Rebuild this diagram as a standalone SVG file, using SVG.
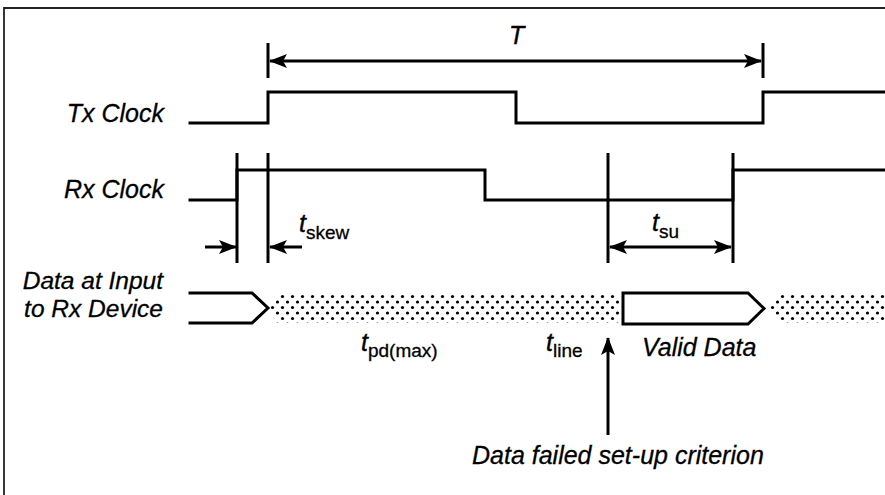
<svg xmlns="http://www.w3.org/2000/svg" width="885" height="495" viewBox="0 0 885 495">
<style>
.wave{fill:none;stroke:#000;stroke-width:3;stroke-linejoin:miter;stroke-linecap:square}
.ref{fill:none;stroke:#000;stroke-width:3}
.dim{fill:none;stroke:#000;stroke-width:3}
.lbl{font-family:"Liberation Sans",Arial,sans-serif;font-style:italic;font-size:25px;fill:#000;stroke:#000;stroke-width:0.3}
.t{font-family:"Liberation Sans",Arial,sans-serif;font-style:italic;font-size:25px;fill:#000;stroke:#000;stroke-width:0.4}
.sub{font-family:"Liberation Sans",Arial,sans-serif;font-style:normal;font-size:19px;fill:#000;stroke:#000;stroke-width:0.3}
</style>
<defs>
<marker id="ah" viewBox="0 0 18 14" refX="17" refY="7" markerWidth="18" markerHeight="14" markerUnits="userSpaceOnUse" orient="auto-start-reverse">
<path d="M0,0 L18,7 L0,14 L4,7 z" fill="#000"/>
</marker>
<pattern id="dots" patternUnits="userSpaceOnUse" width="10" height="11" x="0" y="294">
<circle cx="2.5" cy="2.5" r="1.6" fill="#000"/>
<circle cx="7.5" cy="8" r="1.6" fill="#000"/>
</pattern>
</defs>
<rect width="885" height="495" fill="#fff"/>
<path d="M4,500 V8 H890" fill="none" stroke="#222" stroke-width="1.8"/>

<g id="tx-clock">
<text class="lbl" x="164" y="122" text-anchor="end">Tx Clock</text>
<path class="wave" d="M190,123 H268 V92 H516 V123 H763 V92 H890"/>
</g>

<g id="rx-clock">
<text class="lbl" x="164" y="198" text-anchor="end">Rx Clock</text>
<path class="wave" d="M190,200 H237 V170 H485 V200 H733 V170 H890"/>
</g>

<g id="ref-lines">
<line class="ref" x1="237" y1="153" x2="237" y2="263"/>
<line class="ref" x1="268" y1="153" x2="268" y2="263"/>
<line class="ref" x1="608" y1="153" x2="608" y2="263"/>
<line class="ref" x1="733" y1="153" x2="733" y2="263"/>
</g>

<g id="data">
<text class="lbl" x="163" y="289" text-anchor="end" style="font-size:24.5px">Data at Input</text>
<text class="lbl" x="163" y="317" text-anchor="end" style="font-size:24.5px">to Rx Device</text>
<path class="wave" d="M190,293 H252 L268,308 L252,323 H190"/>
<polygon points="276,293 620,293 620,323 276,323 270,308" fill="url(#dots)"/>
<polygon points="623,293 748,293 764,308.5 748,324 623,324" fill="none" stroke="#000" stroke-width="3" stroke-linejoin="miter"/>
<polygon points="780,293 890,293 890,323 780,323 768,308" fill="url(#dots)"/>
</g>

<g id="connectors">
<line class="dim" x1="268" y1="43" x2="268" y2="78"/>
<line class="dim" x1="763" y1="43" x2="763" y2="78"/>
<line class="dim" x1="270" y1="61" x2="761" y2="61" marker-start="url(#ah)" marker-end="url(#ah)"/>
<line class="dim" x1="205" y1="247" x2="236" y2="247" marker-end="url(#ah)"/>
<line class="dim" x1="302" y1="247" x2="270" y2="247" marker-end="url(#ah)"/>
<line class="dim" x1="610" y1="247" x2="731" y2="247" marker-start="url(#ah)" marker-end="url(#ah)"/>
<line class="dim" x1="608" y1="435" x2="608" y2="338" marker-end="url(#ah)"/>
</g>

<g id="labels">
<text class="t" x="509" y="44">T</text>
<text x="299" y="232"><tspan class="t">t</tspan><tspan class="sub" dy="7">skew</tspan></text>
<text x="652" y="231"><tspan class="t">t</tspan><tspan class="sub" dy="7">su</tspan></text>
<text x="361" y="351"><tspan class="t">t</tspan><tspan class="sub" dy="6">pd(max)</tspan></text>
<text x="546" y="351"><tspan class="t">t</tspan><tspan class="sub" dy="6">line</tspan></text>
<text class="lbl" x="642" y="356">Valid Data</text>
<text class="lbl" x="472" y="464">Data failed set-up criterion</text>
</g>
</svg>
